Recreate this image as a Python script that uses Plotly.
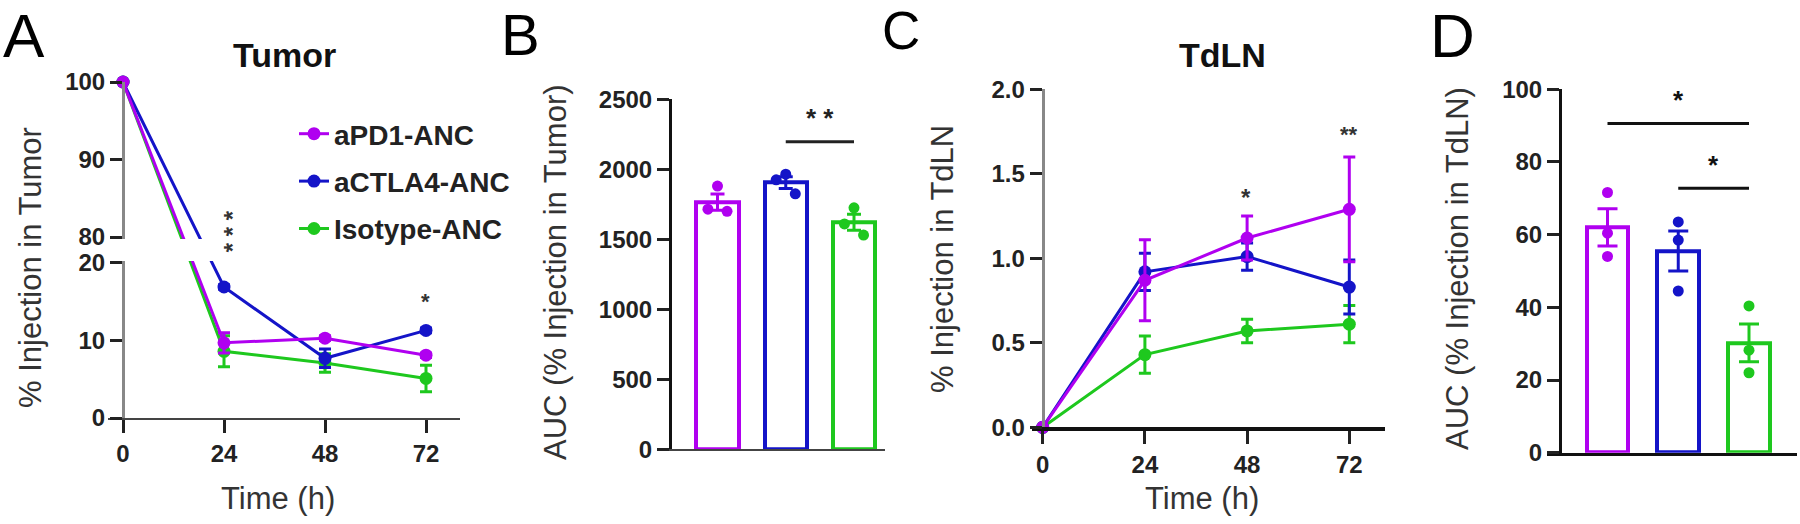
import plotly.graph_objects as go

W, H = 1800, 524
FONT = "Liberation Sans, Arial, sans-serif"


def px_x(p):
    return p / W


def px_y(p):
    return 1 - p / H


# ---------------- data ----------------
time_h = [0, 24, 48, 72]
groups = ["aPD1-ANC", "aCTLA4-ANC", "Isotype-ANC"]
colors = ["#B000F0", "#1414C8", "#1EC81E"]

# Panel A: % injection in tumor
tumor_pd1 = [100, 9.7, 10.3, 8.1]
tumor_pd1_sem = [0, 1.3, 0.3, 0.3]
tumor_ctla4 = [100, 16.9, 7.7, 11.3]
tumor_ctla4_sem = [0, 0.3, 1.2, 0.3]
tumor_iso = [100, 8.6, 7.1, 5.1]
tumor_iso_sem = [0, 2.0, 1.2, 1.7]

# Panel B: AUC tumor
auc_tumor_mean = [1766, 1905, 1622]
auc_tumor_sem = [58, 42, 57]
auc_tumor_pd1_pts = [1880, 1715, 1700]
auc_tumor_ctla4_pts = [1965, 1925, 1825]
auc_tumor_iso_pts = [1725, 1610, 1530]

# Panel C: % injection in TdLN
tdln_pd1 = [0, 0.87, 1.12, 1.29]
tdln_pd1_sem = [0, 0.24, 0.13, 0.31]
tdln_ctla4 = [0, 0.92, 1.01, 0.83]
tdln_ctla4_sem = [0, 0.11, 0.08, 0.16]
tdln_iso = [0, 0.43, 0.57, 0.61]
tdln_iso_sem = [0, 0.11, 0.07, 0.11]

# Panel D: AUC TdLN
auc_tdln_mean = [62.0, 55.5, 30.2]
auc_tdln_sem = [5.1, 5.5, 5.2]
auc_tdln_pd1_pts = [71.6, 60.4, 54.0]
auc_tdln_ctla4_pts = [63.5, 58.5, 44.5]
auc_tdln_iso_pts = [40.4, 28.2, 22.0]

# significance brackets (value level of line, star level)
sig_b = dict(x0=1, x1=2, y=2197, star_y=2365, text="* *")
sig_d = [dict(x0=0, x1=2, y=90.6, star_y=97.0, text="*"),
         dict(x0=1, x1=2, y=72.8, star_y=79.2, text="*")]

# ---------------- broken axis transform (panel A) ----------------
LOW_TOP, HIGH_BOT, HIGH_TOP = 20, 80, 100
GAP = 3.35


def brk(v):
    return v if v <= LOW_TOP else v - HIGH_BOT + LOW_TOP + GAP


fig = go.Figure()

tumor_series = [(tumor_pd1, tumor_pd1_sem), (tumor_ctla4, tumor_ctla4_sem), (tumor_iso, tumor_iso_sem)]
tdln_series = [(tdln_pd1, tdln_pd1_sem), (tdln_ctla4, tdln_ctla4_sem), (tdln_iso, tdln_iso_sem)]

# draw order: isotype, ctla4, pd1 (pd1 on top)
for i in [2, 1, 0]:
    vals, sems = tumor_series[i]
    yv = [brk(v) for v in vals]
    plus = [brk(v + e) - brk(v) for v, e in zip(vals, sems)]
    minus = [brk(v) - brk(v - e) for v, e in zip(vals, sems)]
    fig.add_trace(go.Scatter(
        x=time_h, y=yv, mode="lines+markers", name=groups[i], legendgroup=groups[i],
        legendrank=i + 1, line=dict(color=colors[i], width=3),
        marker=dict(size=13, color=colors[i]),
        error_y=dict(type="data", array=plus, arrayminus=minus, color=colors[i], thickness=3, width=6),
        cliponaxis=False, xaxis="x", yaxis="y"))

for i in [2, 1, 0]:
    vals, sems = tdln_series[i]
    fig.add_trace(go.Scatter(
        x=time_h, y=vals, mode="lines+markers", showlegend=False,
        line=dict(color=colors[i], width=3), marker=dict(size=13, color=colors[i]),
        error_y=dict(type="data", array=sems, color=colors[i], thickness=3, width=6),
        cliponaxis=False, xaxis="x3", yaxis="y3"))

# bars
JIT_B = [0, -0.14, 0.14]
JIT_D = [0, 0, 0]
tumor_pts = [auc_tumor_pd1_pts, auc_tumor_ctla4_pts, auc_tumor_iso_pts]
tdln_pts = [auc_tdln_pd1_pts, auc_tdln_ctla4_pts, auc_tdln_iso_pts]
for i in range(3):
    fig.add_trace(go.Bar(
        x=[i], y=[auc_tumor_mean[i]], width=[0.62], showlegend=False,
        marker=dict(color="white", line=dict(color=colors[i], width=4)),
        error_y=dict(type="data", array=[auc_tumor_sem[i]], color=colors[i], thickness=3, width=7),
        xaxis="x2", yaxis="y2"))
    fig.add_trace(go.Scatter(
        x=[i + j for j in JIT_B], y=tumor_pts[i], mode="markers", showlegend=False,
        marker=dict(size=11, color=colors[i]), cliponaxis=False, xaxis="x2", yaxis="y2"))
    fig.add_trace(go.Bar(
        x=[i], y=[auc_tdln_mean[i]], width=[0.59], showlegend=False,
        marker=dict(color="white", line=dict(color=colors[i], width=4)),
        error_y=dict(type="data", array=[auc_tdln_sem[i]], color=colors[i], thickness=3, width=10),
        xaxis="x4", yaxis="y4"))
    fig.add_trace(go.Scatter(
        x=[i + j for j in JIT_D], y=tdln_pts[i], mode="markers", showlegend=False,
        marker=dict(size=11, color=colors[i]), cliponaxis=False, xaxis="x4", yaxis="y4"))

# ---------------- axes ----------------
tickfont = dict(family=FONT, size=24, color="#222", weight="bold")


def lin_range(p0, p1, ref_px, ref_val, px_per_unit):
    return [ref_val + (p0 - ref_px) / px_per_unit, ref_val + (p1 - ref_px) / px_per_unit]


PXH_A = (426 - 123) / 72
PXH_C = (1349.3 - 1042.7) / 72

common_x = dict(showgrid=False, zeroline=False, ticks="outside", ticklen=13, tickwidth=3,
                tickcolor="#222", tickfont=tickfont, automargin=False)
common_y = dict(showgrid=False, zeroline=False, ticks="outside", ticklen=12, tickwidth=3,
                tickcolor="#222", tickfont=tickfont, anchor="free", automargin=False)
bare_x = dict(showgrid=False, zeroline=False, showticklabels=False, ticks="", automargin=False)

fig.update_layout(
    xaxis=dict(common_x, domain=[px_x(108), px_x(460)], range=lin_range(108, 460, 123, 0, PXH_A),
               tickvals=time_h, showline=True, linecolor="#444", linewidth=2, anchor="y"),
    yaxis=dict(common_y, domain=[px_y(418), px_y(82)], range=[0, brk(HIGH_TOP)], position=px_x(123),
               tickvals=[brk(v) for v in [0, 10, 20, 80, 90, 100]],
               ticktext=["0", "10", "20", "80", "90", "100"],
               showline=True, linecolor="#888", linewidth=3),
    xaxis2=dict(bare_x, domain=[px_x(657), px_x(885)],
                range=lin_range(657, 885, 717.5, 0, 68.25),
                showline=True, linecolor="#444", linewidth=2, anchor="y2"),
    yaxis2=dict(common_y, domain=[px_y(449.3), px_y(99.3)], range=[0, 2500], position=px_x(670),
                tickvals=[0, 500, 1000, 1500, 2000, 2500], showline=True, linecolor="#111", linewidth=3),
    xaxis3=dict(common_x, domain=[px_x(1032), px_x(1385)], range=lin_range(1032, 1385, 1042.7, 0, PXH_C),
                tickvals=time_h, showline=True, linecolor="#111", linewidth=4, anchor="y3"),
    yaxis3=dict(common_y, domain=[px_y(427.3), px_y(89.3)], range=[0, 2], position=px_x(1042.7),
                tickvals=[0, 0.5, 1, 1.5, 2], tickformat=".1f",
                showline=True, linecolor="#888", linewidth=3),
    xaxis4=dict(bare_x, domain=[px_x(1547), px_x(1797)],
                range=lin_range(1547, 1797, 1607.5, 0, 70.75),
                showline=True, linecolor="#111", linewidth=3, anchor="y4"),
    yaxis4=dict(common_y, domain=[px_y(452.7), px_y(89.3)], range=[0, 100], position=px_x(1560),
                tickvals=[0, 20, 40, 60, 80, 100], showline=True, linecolor="#111", linewidth=3),
)

# ---------------- shapes ----------------
shapes = [
    # mask for broken axis in panel A
    dict(type="rect", xref="x", yref="y", x0=-10, x1=90, y0=LOW_TOP + 0.25, y1=LOW_TOP + GAP - 0.25,
         fillcolor="white", line=dict(width=0), layer="above"),
    dict(type="line", xref="x2", yref="y2", x0=sig_b["x0"], x1=sig_b["x1"], y0=sig_b["y"], y1=sig_b["y"],
         line=dict(color="#222", width=3)),
]
for s in sig_d:
    shapes.append(dict(type="line", xref="x4", yref="y4", x0=s["x0"], x1=s["x1"], y0=s["y"], y1=s["y"],
                       line=dict(color="#111", width=3)))

# ---------------- annotations ----------------
ann = []


def txt(text, x, y, size, color="#111", weight="normal", angle=0, xref="paper", yref="paper",
        yanchor="middle"):
    ann.append(dict(text=text, x=x, y=y, xref=xref, yref=yref, showarrow=False, textangle=angle,
                    xanchor="center", yanchor=yanchor, borderpad=0,
                    font=dict(family=FONT, size=size, color=color, weight=weight)))


# panel letters (box top at page top; cap glyph starts ~0.19 em lower)
txt("A", px_x(24), px_y(0), 62, "#000", yanchor="top")
txt("B", px_x(520), px_y(1), 58, "#000", yanchor="top")
txt("C", px_x(901), px_y(0), 53, "#000", yanchor="top")
txt("D", px_x(1452), px_y(0), 62, "#000", yanchor="top")
# titles
txt("Tumor", px_x(284), px_y(55), 34, "#111", "bold")
txt("TdLN", px_x(1222), px_y(55), 34, "#111", "bold")
# axis titles
txt("% Injection in Tumor", px_x(30), px_y(268), 31, "#333", angle=-90)
txt("AUC (% Injection in Tumor)", px_x(555), px_y(272), 31, "#333", angle=-90)
txt("% Injection in TdLN", px_x(942), px_y(259), 31, "#333", angle=-90)
txt("AUC (% Injection in TdLN)", px_x(1457), px_y(269), 31, "#333", angle=-90)
txt("Time (h)", px_x(278), px_y(498), 31, "#333")
txt("Time (h)", px_x(1202), px_y(498), 31, "#333")


def star(text, xpx, ypx, size=24, color="#333"):
    # asterisk glyph sits high in the em box; shift box down so glyph centre lands on ypx
    txt(text, px_x(xpx), px_y(ypx + 0.22 * size), size, color, "bold")


# panel A: vertical "***" at 24 h (rotated text; glyph offset moves sideways)
txt("* * *", px_x(227 + 0.22 * 24), px_y(231), 24, "#333", "bold", angle=-90)
star("*", 425, 297, 22)
# panel B
txt(sig_b["text"], (sig_b["x0"] + sig_b["x1"]) / 2, sig_b["star_y"], 26, "#222", "bold",
    xref="x2", yref="y2")
# panel C
star("*", 1246, 192, 24)
star("**", 1349, 130, 22)
# panel D
for s in sig_d:
    txt(s["text"], (s["x0"] + s["x1"]) / 2, s["star_y"], 26, "#111", "bold", xref="x4", yref="y4")

fig.update_layout(
    template="none",
    width=W, height=H, margin=dict(l=0, r=0, t=0, b=0, pad=0, autoexpand=False),
    paper_bgcolor="white", plot_bgcolor="white",
    shapes=shapes, annotations=ann,
    showlegend=True,
    legend=dict(x=px_x(294), y=px_y(109), xanchor="left", yanchor="top",
                font=dict(family=FONT, size=28, color="#222", weight="bold"),
                tracegroupgap=8, bgcolor="rgba(0,0,0,0)", itemwidth=30, borderwidth=0),
    bargap=0,
)

fig.write_html("out.html", config={"displayModeBar": False, "responsive": False},
               post_script="document.body.style.margin='0';document.body.style.overflow='hidden';")
